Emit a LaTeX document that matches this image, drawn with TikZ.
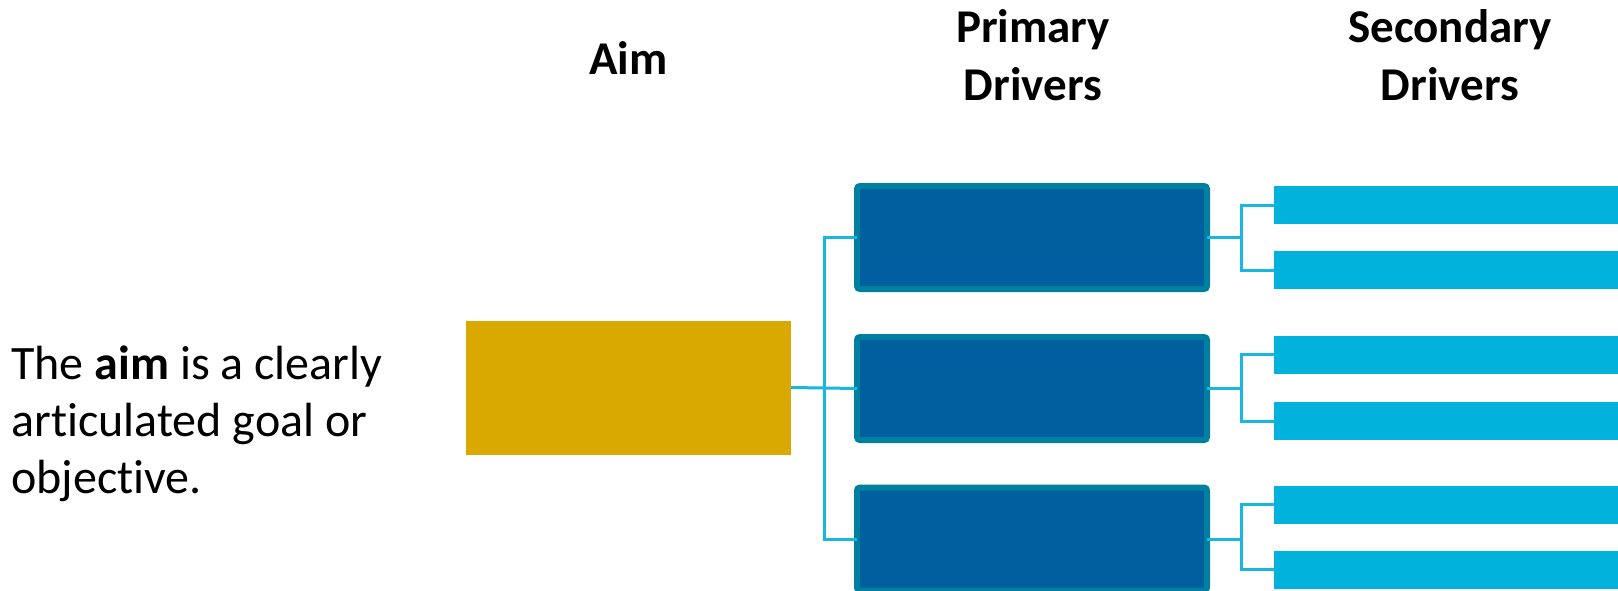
\documentclass[tikz,border=0pt]{standalone}
\usepackage{fontspec}
\setmainfont{Carlito}[Ligatures=NoCommon]
\definecolor{aimgold}{RGB}{218,169,0}
\definecolor{primfill}{RGB}{0,95,158}
\definecolor{primedge}{RGB}{0,128,158}
\definecolor{secbar}{RGB}{0,178,220}
\definecolor{linkcyan}{RGB}{26,182,226}
\begin{document}
\begin{tikzpicture}[x=0.5pt,y=-0.5pt,
  aimbox/.style={fill=aimgold,inner sep=0pt,outer sep=0pt,minimum width=162.5pt,minimum height=67pt},
  primbox/.style={fill=primfill,draw=primedge,line width=3pt,rounded corners=1.5pt,inner sep=0pt,outer sep=0pt,minimum width=175pt,minimum height=51.5pt},
  secbox/.style={fill=secbar,inner sep=0pt,outer sep=0pt,minimum width=176pt,minimum height=19pt},
  heading/.style={font=\fontsize{23.5pt}{29pt}\selectfont\bfseries,align=center,inner sep=0pt,anchor=base},
  body/.style={font=\fontsize{24pt}{28.5pt}\selectfont,align=left,inner sep=0pt,anchor=base west},
  link/.style={draw=linkcyan,line width=1.5pt}]
\useasboundingbox (0,0) rectangle (1618,590);

% column headings (anchored at the baseline of their last line)
\node[heading] (haim) at (628.5,74) {Aim};
\node[heading] (hprim) at (1033,100.5) {Primary\\Drivers};
\node[heading] (hsec) at (1450,100.5) {Secondary\\Drivers};

% explanatory text
\node[body] (note) at (11,493) {The \textbf{aim} is a clearly\\articulated goal or\\objective.};

% aim
\node[aimbox] (aim) at (628.5,387.5) {};

% primary drivers
\node[primbox] (p1) at (1032,237.5) {};
\node[primbox] (p2) at (1032,388.5) {};
\node[primbox] (p3) at (1032,539) {};

% secondary drivers
\node[secbox] (s1a) at (1450,205) {};
\node[secbox] (s1b) at (1450,270) {};
\node[secbox] (s2a) at (1450,354.5) {};
\node[secbox] (s2b) at (1450,421) {};
\node[secbox] (s3a) at (1450,504.5) {};
\node[secbox] (s3b) at (1450,569.5) {};

% aim to primary drivers
\draw[link] (aim.east) -- (p2.west);
\draw[link] (p1.west) -- ++(-32.5,0) |- (p3.west);

% primary to secondary drivers
\foreach \p/\a/\b in {p1/s1a/s1b,p2/s2a/s2b,p3/s3a/s3b}{
  \draw[link] (\p.east) -- ++(34,0);
  \draw[link] (\a.west) -- ++(-33,0) |- (\b.west);
}
\end{tikzpicture}
\end{document}
